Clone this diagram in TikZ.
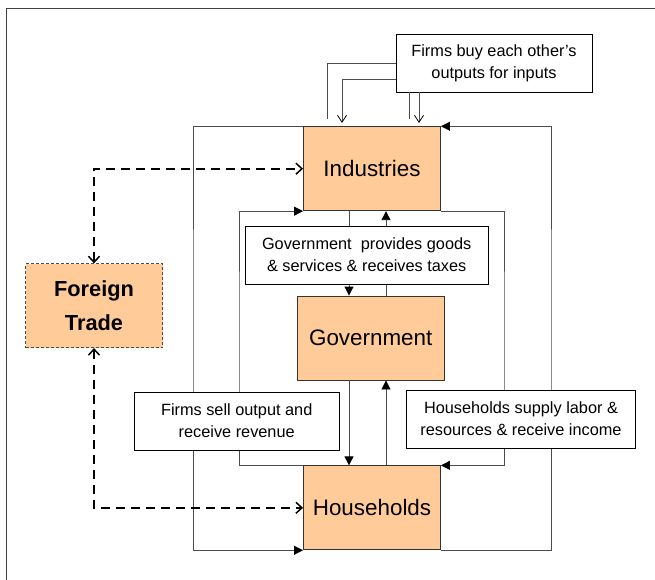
\documentclass[tikz,border=0pt]{standalone}
\usepackage{fontspec}
\setmainfont{Liberation Sans}
\usepackage{tikz}
\usetikzlibrary{arrows.meta, positioning}
\definecolor{sector}{HTML}{FFCC99}
\definecolor{boxline}{HTML}{333333}
\definecolor{flowline}{HTML}{4D4D4D}
\tikzset{%
    every path/.style={line width=0.9pt},
    sector/.style={%
        rectangle,
        fill=sector,
        draw=boxline,
        inner sep=0pt,
        minimum width=137pt,
        minimum height=84pt,
        font=\fontsize{22.4}{26}\selectfont,
        text centered,
    },
    note/.style={%
        rectangle,
        fill=white,
        draw=black,
        inner sep=0pt,
        minimum height=58pt,
        align=center,
        font=\fontsize{16.3}{22}\selectfont,
    },
    flow/.style={%
        draw=flowline,
        -{Triangle[length=9pt, width=9pt, black]},
    },
    buy/.style={%
        draw=flowline,
        -{Straight Barb[length=7pt, width=9pt, line width=0.8pt, black]},
    },
    trade/.style={%
        line width=1.8pt,
        dash pattern=on 9pt off 6pt,
        {Straight Barb[length=6pt, width=11pt, line width=1.5pt]}-{Straight Barb[length=6pt, width=11pt, line width=1.5pt]},
    },
}

\begin{document}
\begin{tikzpicture}[x=1pt, y=-1pt]
	\useasboundingbox (0,0) rectangle (655,580);
	\draw[line width=0.8pt, black!75] (655,8) -- (6,8) -- (6,580);

	% corner and column coordinates
	\coordinate (outerL) at (193,330);
	\coordinate (outerR) at (551,330);
	\coordinate (innerL) at (239,330);
	\coordinate (innerR) at (504,330);
	\coordinate (down) at (349,0);
	\coordinate (up) at (386,0);
	\coordinate (buyA) at (327,119);
	\coordinate (buyB) at (342,123);
	\coordinate (buyC) at (409,119);
	\coordinate (buyD) at (419,123);

	\node [sector] at (372,168.7) (industries) {Industries};
	\node [sector, minimum width=147pt] at (370.7,338) (government) {Government};
	\node [sector] at (372,507.8) (households) {Households};
	\node [sector, draw=black!70, line width=0.7pt, dash pattern=on 3pt off 2pt,
	       font=\fontsize{21.8}{34}\selectfont\bfseries, align=center]
	      at (94,305.7) (foreign) {Foreign\\Trade};

	\node [note, minimum width=196pt] at (494,63) (buyNote) {Firms buy each other’s\\outputs for inputs};

	\draw[flowline] (buyNote.west) -| (buyA);
	\draw[buy] ([yshift=-16pt]buyNote.west) -| (buyB);
	\draw[flowline] (buyNote.south -| buyC) -- (buyC);
	\draw[buy] (buyNote.south -| buyD) -- (buyD);

	\draw[flow] (industries.north west) -| (outerL) |- (households.south west);
	\draw[flow] (households.south east) -| (outerR) |- (industries.north east);
	\draw[flow] (households.north west) -| (innerL) |- (industries.south west);
	\draw[flow] (industries.south east) -| (innerR) |- (households.north east);

	\draw[flow] (industries.south -| down) -- (government.north -| down);
	\draw[flow] (government.north -| up) -- (industries.south -| up);
	\draw[flow] (government.south -| down) -- (households.north -| down);
	\draw[flow] (households.north -| up) -- (government.south -| up);

	\draw[trade] (foreign.north) |- (industries.west);
	\draw[trade] (foreign.south) |- (households.west);

	\node [note, minimum width=243pt] at (366.7,255) (govNote) {Government~ provides goods\\\& services \& receives taxes};
	\node [note, minimum width=205pt] at (236.7,421) (sellNote) {Firms sell output and\\receive revenue};
	\node [note, minimum width=229pt] at (521,419) (supplyNote) {Households supply labor \&\\resources \& receive income};
\end{tikzpicture}
\end{document}
